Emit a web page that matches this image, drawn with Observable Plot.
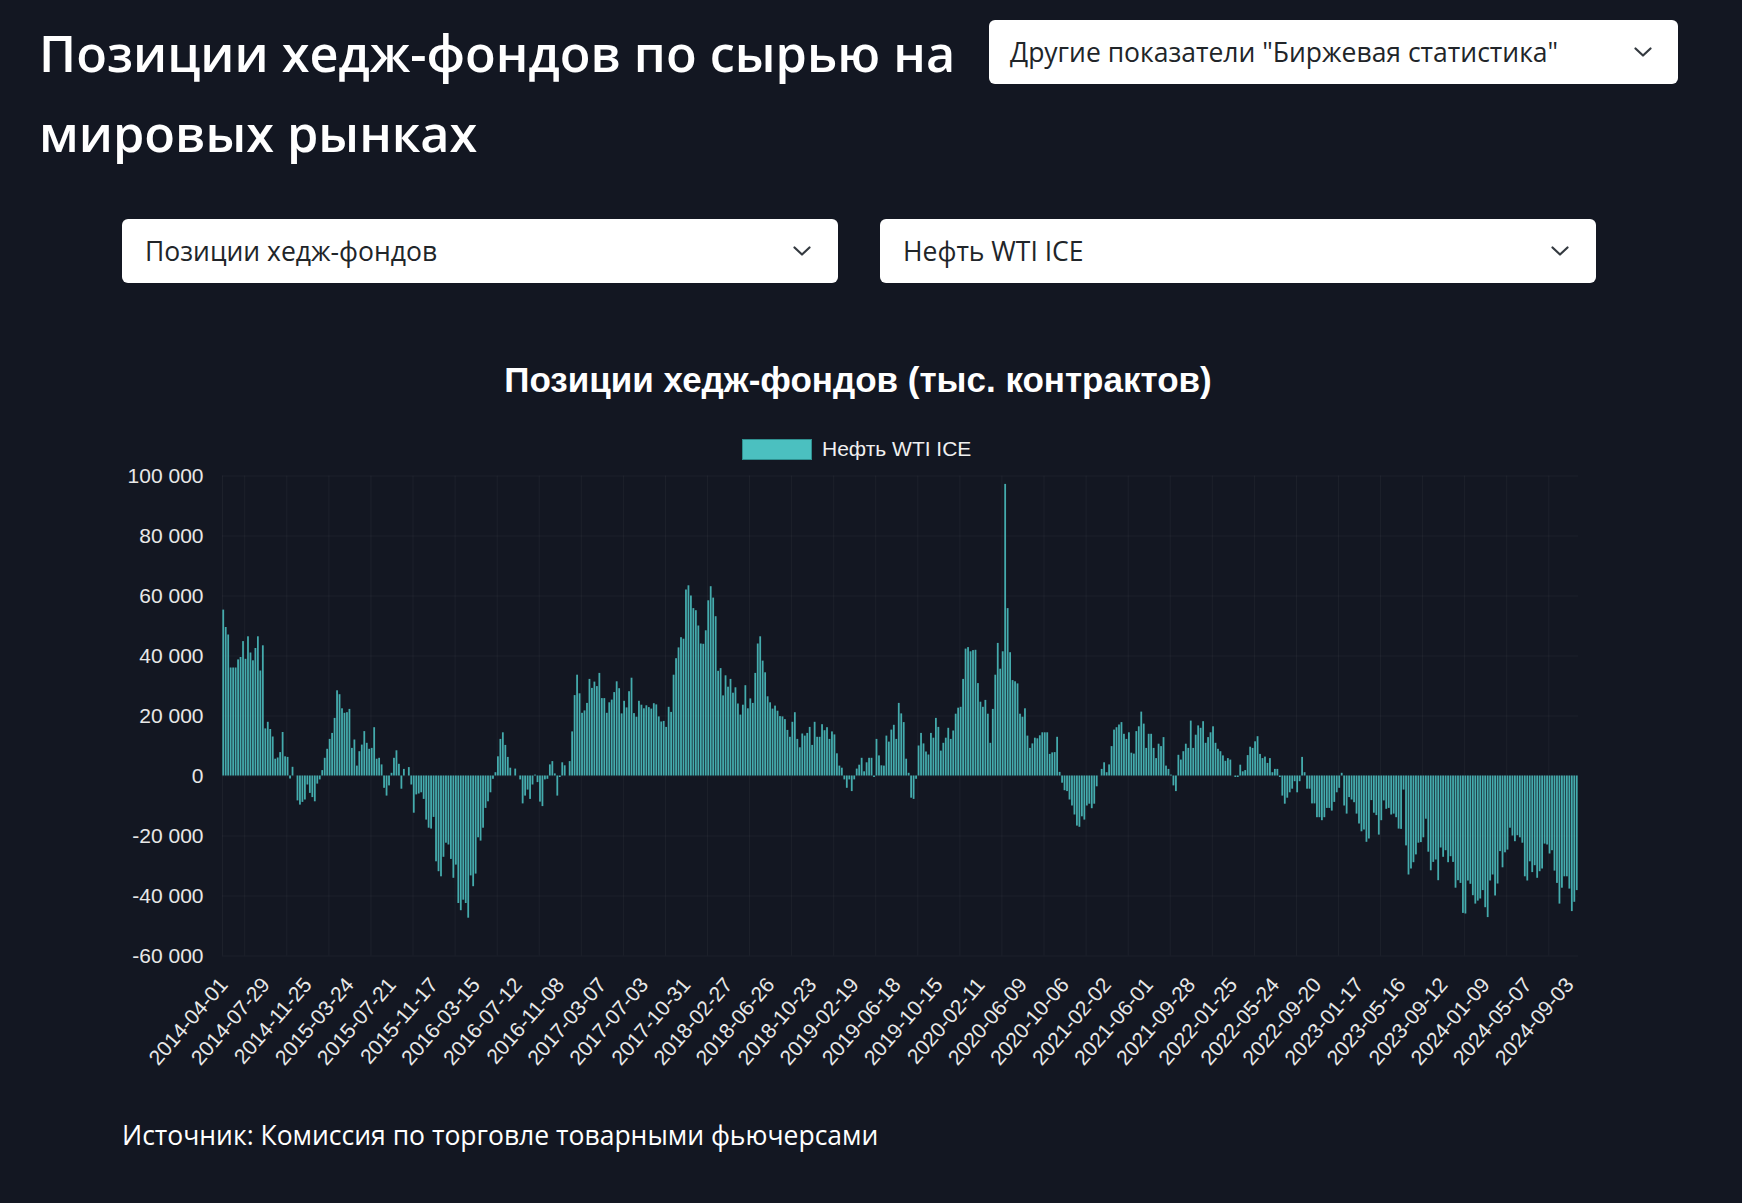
<!DOCTYPE html>
<html><head><meta charset="utf-8">
<script src="https://cdn.jsdelivr.net/npm/d3@7"></script>
<script src="https://cdn.jsdelivr.net/npm/@observablehq/plot@0.6"></script>
<style>
html,body{margin:0;padding:0;background:#131722;width:1742px;height:1203px;overflow:hidden;}
body{position:relative;font-family:"Open Sans","Noto Sans",sans-serif;color:#fff;}
.title{position:absolute;left:39px;top:13px;font-size:50.4px;font-weight:600;line-height:80px;white-space:nowrap;}
.select{position:absolute;background:#fff;border-radius:6px;color:#212529;font-size:26.5px;box-sizing:border-box;display:flex;align-items:center;white-space:nowrap;}
.select .chev{position:absolute;top:50%;margin-top:-5px;}
#ctitle{position:absolute;left:0;width:1716px;top:360px;text-align:center;font-family:"Liberation Sans",Arial,sans-serif;font-weight:bold;font-size:35px;color:#fff;}
#legend{position:absolute;left:742px;top:437px;display:flex;align-items:center;font-family:"Liberation Sans",Arial,sans-serif;font-size:21px;color:#f0f0f0;}
#legend .box{width:70px;height:21px;background:#4bc0c0;border:1px solid #2f8f8f;box-sizing:border-box;margin-right:10px;}
#chart{position:absolute;left:0;top:400px;}
#caption{position:absolute;left:122px;top:1117px;font-size:26.5px;color:#fff;white-space:nowrap;}
</style></head>
<body>
<div class="title">Позиции хедж-фондов по сырью на<br>мировых рынках</div>
<div class="select" style="left:989px;top:20px;width:689px;height:64px;padding-left:21px;">Другие показатели "Биржевая статистика"<svg class="chev" style="left:645px" width="18" height="10" viewBox="0 0 18 10"><path d="M1.5 1.5 L9 8.5 L16.5 1.5" fill="none" stroke="#343a40" stroke-width="2.2" stroke-linecap="round" stroke-linejoin="round"/></svg></div>
<div class="select" style="left:122px;top:219px;width:716px;height:64px;padding-left:23px;">Позиции хедж-фондов<svg class="chev" style="left:671px" width="18" height="10" viewBox="0 0 18 10"><path d="M1.5 1.5 L9 8.5 L16.5 1.5" fill="none" stroke="#343a40" stroke-width="2.2" stroke-linecap="round" stroke-linejoin="round"/></svg></div>
<div class="select" style="left:880px;top:219px;width:716px;height:64px;padding-left:23px;">Нефть WTI ICE<svg class="chev" style="left:671px" width="18" height="10" viewBox="0 0 18 10"><path d="M1.5 1.5 L9 8.5 L16.5 1.5" fill="none" stroke="#343a40" stroke-width="2.2" stroke-linecap="round" stroke-linejoin="round"/></svg></div>
<div id="ctitle">Позиции хедж-фондов (тыс. контрактов)</div>
<div id="legend"><div class="box"></div><span id="seriesName"></span></div>
<div id="chart"></div>
<div id="caption">Источник: Комиссия по торговле товарными фьючерсами</div>
<script>
const seriesName = "Нефть WTI ICE";
const tickLabels = ["2014-04-01","2014-07-29","2014-11-25","2015-03-24","2015-07-21","2015-11-17","2016-03-15","2016-07-12","2016-11-08","2017-03-07","2017-07-03","2017-10-31","2018-02-27","2018-06-26","2018-10-23","2019-02-19","2019-06-18","2019-10-15","2020-02-11","2020-06-09","2020-10-06","2021-02-02","2021-06-01","2021-09-28","2022-01-25","2022-05-24","2022-09-20","2023-01-17","2023-05-16","2023-09-12","2024-01-09","2024-05-07","2024-09-03"];
const yTicks = [-60000,-40000,-20000,0,20000,40000,60000,80000,100000];
// weekly net positions, thousands of contracts (one row per 17 weeks)
const positionsK = [
55.3,49.5,47,36,36,36,38.7,39.5,44.8,38.9,46.4,41,38.4,42.5,46.4,35,43.4,
15.7,17.9,15.5,13,5.6,6,7.8,14.5,6.4,6.2,-1,2.9,0,-8.3,-9.7,-8.8,-8,
-3,-5.8,-7.2,-8.6,-2.7,-1.3,1.8,5.9,8.9,12.2,14.2,19.2,28.4,27.1,22.4,20.9,21.1,
22.2,9.2,12,3.3,8.1,10.3,14.8,10.9,8.9,9.2,16.1,5.6,5.9,3.7,-4.1,-6.7,-3.3,
0.9,5.9,8.4,3.9,-4.4,2.2,0,2.8,-3,-12.4,-6.3,-6,-5.6,-7.8,-14.7,-17.4,-17.7,
-13.8,-28.6,-31.9,-33.6,-27.1,-22.4,-23,-27.8,-34.1,-29.7,-42.5,-44.9,-41.4,-42.5,-47.4,-33.3,-36.9,
-32.7,-20.6,-21.7,-17.4,-10.8,-8.6,-5.6,-1.1,1.1,6.4,12.2,14.4,10.2,6.2,2.6,0,2.3,
0,-1.3,-9.3,-6.7,-4.7,-7.8,-3,0.3,-2.2,-8.7,-10.2,-1.3,-1.1,3.7,4.8,0.7,-6.7,
-0.5,4.4,3.4,0,4.8,14.7,26.8,33.6,27.4,20.9,21.7,24.2,32.2,29.2,31.3,29.8,34.2,
25.8,25.8,20.9,24.4,25.3,27.8,31.4,29.1,20.7,24.9,22.7,28.1,32.6,20.8,19.6,24.9,23.6,
22.4,23.4,22.8,22.3,24.1,23.7,19.7,18,18.2,16.2,22.9,21.2,33.6,39.1,42.7,46.1,45.6,
62,63.4,60,55.8,55.1,50,44,43.9,48.4,58.4,63.1,59.3,53.1,34.9,35.8,26.7,33.4,
29.6,32.2,27.6,29.4,24,20.3,23.6,30.1,22.4,25.7,24.2,34.2,44,46.4,38.3,34.4,26.4,
24.4,22.3,23.3,21.6,19.8,19.7,18.8,15.2,12.9,17.9,21.1,12.2,9.4,14,13.3,14.2,16.2,
10.2,17.9,12.9,12.9,17.1,15.1,16.1,12.2,14.7,13.7,7.4,3.3,2.6,-1.3,-4.1,-1.3,-5.2,
-1.3,2.3,3.6,5.9,1.4,4.4,5.9,5.9,-0.5,12.2,6.7,3.4,3.3,13.3,11.3,15.3,16.9,
12.2,24.2,20.7,17.8,5.6,0.9,-7.4,-7.8,-1.1,10,14.2,10.7,8,7,14.2,12.6,19.2,
16.2,8.3,10.9,12.6,15.9,12.2,15,20.6,22.6,22.9,32.2,42.3,42.8,41.4,41.8,41.9,30.8,
24.6,22.9,25.2,20.6,10.9,22.2,33.6,44.2,35.6,41.4,97.2,55.8,41.1,31.8,31.4,30.7,20.6,
19.6,22.4,13.3,9.2,10.7,12.6,12.4,13.4,14.4,14.4,14.4,7.2,7.7,7.8,12.9,1.2,-2.4,
-4.9,-5.2,-8,-10,-13,-16.7,-17.1,-13.6,-14.7,-10,-9.4,-10.9,-9.4,-3.6,0,2.2,4.4,
1.1,3.7,9.8,15.3,16.1,17,17.8,13.9,12.2,14.4,7.6,7.3,14.8,16.4,21.3,17.3,9.2,
13.9,13.9,9.2,5.8,10.6,9.8,12.8,3.3,2.2,0.3,-3.3,-5.2,6.9,5.3,8.1,10.6,9.2,
18.3,9.2,13.6,16.7,15.9,18.1,10.9,12.8,14.4,16.4,10.9,8.9,8.1,6.7,4.9,5.8,5.3,
0,-0.5,-0.5,3.6,1.4,1.8,6.8,9.6,9.2,11.4,13.1,7.2,5.8,6.3,4.2,5.8,1.1,
2.2,2.2,-0.5,-6.7,-9.4,-7.4,-5.6,-4.4,-1.9,-5.6,-1.9,6.2,1.1,-4.4,-4.4,-9.3,-9.3,
-13.9,-13.9,-14.9,-13.9,-10.8,-10.8,-11.7,-8.8,-5.6,-4.1,0.9,-10,-12.7,-7.2,-8,-8.9,-12.7,
-16,-18.6,-18,-22.1,-21,-8.2,-12.4,-13.2,-19.7,-14.9,-8.3,-11.1,-10.8,-13,-12.7,-13.9,-17.7,
-17.8,-4.7,-23.3,-33,-31,-28.9,-26.3,-22.4,-22.2,-20.6,-14.4,-25.4,-31.6,-28.8,-28,-34.9,-24,
-27.1,-24.9,-28.9,-26.9,-28.8,-37.4,-34.9,-35.8,-45.8,-46,-35,-36.1,-39.9,-42.7,-41.7,-41,-38.2,
-43.9,-47.2,-35,-33,-40,-36,-25.2,-30.6,-25.6,-24.7,-17.4,-20,-21.9,-19.9,-20.6,-22.4,-33.6,
-35,-28.6,-32.2,-29.9,-34.1,-31.9,-31,-22.7,-23,-26,-24.9,-31.7,-35.8,-42.7,-37.4,-33.6,-33.6,
-37.7,-45.2,-42.1,-38.2
];

document.getElementById("seriesName").textContent = seriesName;

const labelEvery = 17;
const n = positionsK.length;
const data = positionsK.map((v, i) => ({i, v: v * 1000}));
const tickIdx = tickLabels.map((_, k) => k * labelEvery);
const gridIdx = [-0.5].concat(tickLabels.map((_, k) => k * labelEvery + labelEvery / 2).filter(x => x < n - 0.5));
const fmt = v => (v < 0 ? "-" : "") + String(Math.abs(v)).replace(/\B(?=(\d{3})+(?!\d))/g, " ");

const chart = Plot.plot({
  width: 1742,
  height: 700,
  marginLeft: 222,
  marginRight: 164,
  marginTop: 75.5,
  marginBottom: 144.5,
  style: {background: "transparent", color: "#e8e8e8", fontFamily: "'Liberation Sans', Arial, sans-serif", fontSize: "21px"},
  x: {type: "linear", domain: [-0.5, n - 0.5]},
  y: {domain: [-60000, 100000]},
  marks: [
    Plot.ruleY(yTicks, {stroke: "#ffffff", strokeOpacity: 0.045}),
    Plot.ruleX(gridIdx, {stroke: "#ffffff", strokeOpacity: 0.045}),
    Plot.rectY(data, {x1: d => d.i - 0.36, x2: d => d.i + 0.36, y1: 0, y2: "v", fill: "#4bc0c0", fillOpacity: 0.88}),
    Plot.axisY({ticks: yTicks, tickFormat: fmt, tickSize: 0, tickPadding: 19, label: null, fontSize: 21}),
    Plot.axisX({ticks: tickIdx, tickFormat: i => tickLabels[Math.round(i / labelEvery)], tickRotate: -49, tickSize: 0, tickPadding: 25, label: null, fontSize: 21})
  ]
});
document.getElementById("chart").appendChild(chart);
</script>
</body></html>
